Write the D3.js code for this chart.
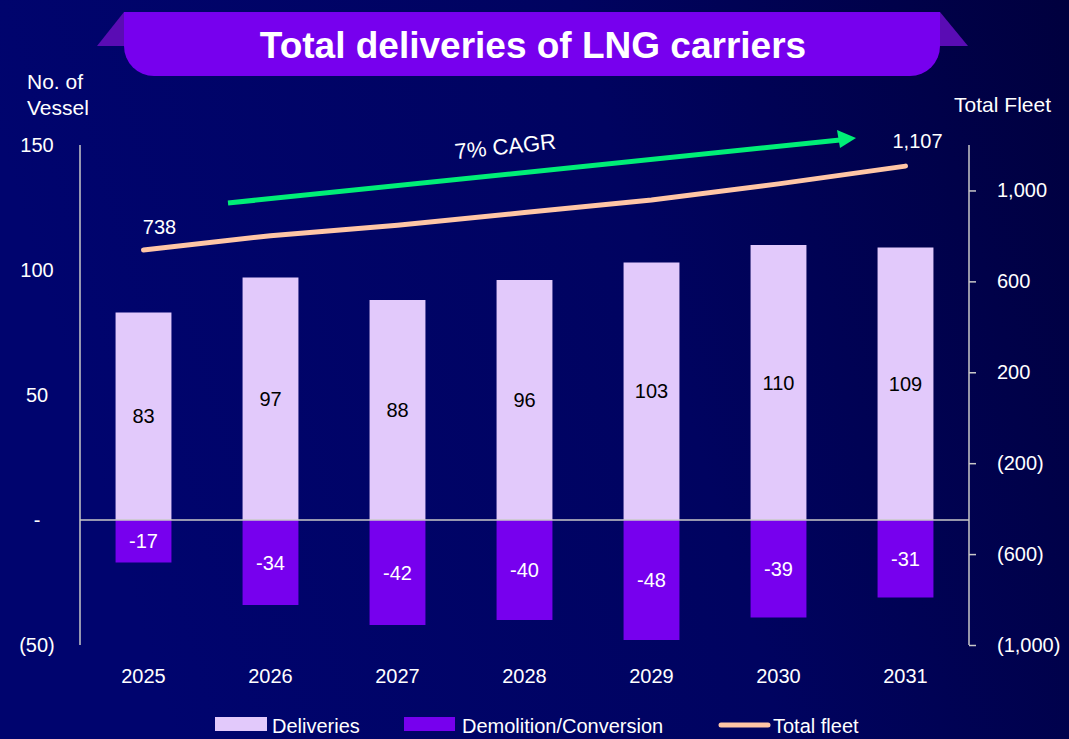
<!DOCTYPE html>
<html>
<head>
<meta charset="utf-8">
<script src="https://cdn.jsdelivr.net/npm/d3@7"></script>
<style>
  body { margin: 0; background: #000055; }
  svg { display: block; font-family: "Liberation Sans", Arial, sans-serif; }
</style>
</head>
<body>
<script>
// chart data
var years = ["2025", "2026", "2027", "2028", "2029", "2030", "2031"];
var deliveries = [83, 97, 88, 96, 103, 110, 109];
var demolition = [-17, -34, -42, -40, -48, -39, -31];
var totalFleet = [738, 801, 847, 903, 958, 1029, 1107];
var leftTicks = [150, 100, 50, 0, -50];
var rightTicks = [1000, 600, 200, -200, -600, -1000];

var W = 1069, H = 739;
var plot = {left: 80, right: 969, top: 145, bottom: 645};

var svg = d3.select("body").append("svg")
    .attr("width", W)
    .attr("height", H);

// background
var defs = svg.append("defs");
var bg = defs.append("linearGradient").attr("id", "bg")
    .attr("x1", "0%").attr("y1", "20%").attr("x2", "100%").attr("y2", "0%");
bg.append("stop").attr("offset", "0%").attr("stop-color", "#00046e");
bg.append("stop").attr("offset", "55%").attr("stop-color", "#000360");
bg.append("stop").attr("offset", "100%").attr("stop-color", "#00003e");
svg.append("rect").attr("width", W).attr("height", H).attr("fill", "url(#bg)");

// title banner
svg.append("path")
  .attr("d", "M97,46 L124,12 L124,46 Z")
  .attr("fill", "#5a0cb4");
svg.append("path")
  .attr("d", "M968,46 L940,12 L940,46 Z")
  .attr("fill", "#5a0cb4");
svg.append("path")
  .attr("d", "M124,12 H940 V46 A30,30 0 0 1 910,76 H154 A30,30 0 0 1 124,46 Z")
  .attr("fill", "#7700ee");
svg.append("text")
  .attr("x", 533).attr("y", 58)
  .attr("text-anchor", "middle")
  .attr("fill", "#fff")
  .style("font-size", "37px")
  .style("font-weight", "bold")
  .text("Total deliveries of LNG carriers");

// scales
var x = d3.scaleBand().domain(years).range([plot.left, plot.right]).paddingInner(0.56).paddingOuter(0.28);
var yL = d3.scaleLinear().domain([-50, 150]).range([plot.bottom, plot.top]);
var yR = d3.scaleLinear().domain([-1000, 1200]).range([plot.bottom, plot.top]);

var axisColor = "#c8c8c8";

// bars
svg.selectAll(".deliv")
  .data(deliveries).enter()
  .append("rect")
    .attr("class", "deliv")
    .attr("x", function(d, i) { return x(years[i]); })
    .attr("y", function(d) { return yL(d); })
    .attr("width", x.bandwidth())
    .attr("height", function(d) { return yL(0) - yL(d); })
    .attr("fill", "#e2c9fb");

svg.selectAll(".demo")
  .data(demolition).enter()
  .append("rect")
    .attr("class", "demo")
    .attr("x", function(d, i) { return x(years[i]); })
    .attr("y", yL(0))
    .attr("width", x.bandwidth())
    .attr("height", function(d) { return yL(d) - yL(0); })
    .attr("fill", "#7700ee");

// bar labels
svg.selectAll(".delivLab")
  .data(deliveries).enter()
  .append("text")
    .attr("x", function(d, i) { return x(years[i]) + x.bandwidth() / 2; })
    .attr("y", function(d) { return (yL(d) + yL(0)) / 2; })
    .attr("dy", "0.35em")
    .attr("text-anchor", "middle")
    .attr("fill", "#000")
    .style("font-size", "20px")
    .text(function(d) { return d; });

svg.selectAll(".demoLab")
  .data(demolition).enter()
  .append("text")
    .attr("x", function(d, i) { return x(years[i]) + x.bandwidth() / 2; })
    .attr("y", function(d) { return (yL(d) + yL(0)) / 2; })
    .attr("dy", "0.35em")
    .attr("text-anchor", "middle")
    .attr("fill", "#fff")
    .style("font-size", "20px")
    .text(function(d) { return d; });

// axes lines
svg.append("line")
  .attr("x1", plot.left).attr("x2", plot.left)
  .attr("y1", plot.top).attr("y2", plot.bottom)
  .attr("stroke", axisColor).attr("stroke-width", 1.5);

svg.append("line")
  .attr("x1", plot.left).attr("x2", plot.right)
  .attr("y1", yL(0)).attr("y2", yL(0))
  .attr("stroke", axisColor).attr("stroke-width", 1.5);

// right axis
var rightAxis = svg.append("g")
    .attr("transform", "translate(" + plot.right + ",0)")
    .call(d3.axisRight(yR).tickValues(rightTicks).tickSize(7).tickPadding(21)
      .tickFormat(function(d) { return d < 0 ? "(" + d3.format(",")(-d) + ")" : d3.format(",")(d); }));
rightAxis.select(".domain").remove();
rightAxis.append("line")
  .attr("x1", 0).attr("x2", 0)
  .attr("y1", plot.top).attr("y2", plot.bottom)
  .attr("stroke", axisColor).attr("stroke-width", 1.5);
rightAxis.selectAll(".tick line").attr("stroke", axisColor).attr("stroke-width", 1.5);
rightAxis.selectAll("text")
  .attr("fill", "#fff")
  .style("font-size", "20px")
  .style("font-family", "Liberation Sans, Arial, sans-serif");

// left tick labels
svg.selectAll(".lt")
  .data(leftTicks).enter()
  .append("text")
    .attr("x", 37)
    .attr("y", function(d) { return yL(d); })
    .attr("dy", "0.35em")
    .attr("text-anchor", "middle")
    .attr("fill", "#fff")
    .style("font-size", "20px")
    .text(function(d) { return d === 0 ? "-" : (d < 0 ? "(" + (-d) + ")" : d); });

// category labels
svg.selectAll(".cat")
  .data(years).enter()
  .append("text")
    .attr("x", function(d) { return x(d) + x.bandwidth() / 2; })
    .attr("y", 676)
    .attr("dy", "0.35em")
    .attr("text-anchor", "middle")
    .attr("fill", "#fff")
    .style("font-size", "20px")
    .text(function(d) { return d; });

// axis titles
var lt = svg.append("text").attr("fill", "#fff").style("font-size", "21px");
lt.append("tspan").attr("x", 27).attr("y", 89).text("No. of");
lt.append("tspan").attr("x", 27).attr("y", 115).text("Vessel");
svg.append("text")
  .attr("x", 1051).attr("y", 112)
  .attr("text-anchor", "end")
  .attr("fill", "#fff")
  .style("font-size", "21px")
  .text("Total Fleet");

// total fleet line
var line = d3.line()
  .x(function(d, i) { return x(years[i]) + x.bandwidth() / 2; })
  .y(function(d) { return yR(d); });

svg.append("path")
  .datum(totalFleet)
  .attr("d", line)
  .attr("fill", "none")
  .attr("stroke", "#ffc6a6")
  .attr("stroke-width", 5)
  .attr("stroke-linecap", "round")
  .attr("stroke-linejoin", "round");

svg.append("text")
  .attr("x", x(years[0]) + x.bandwidth() / 2 + 16)
  .attr("y", yR(totalFleet[0]) - 16)
  .attr("text-anchor", "middle")
  .attr("fill", "#fff")
  .style("font-size", "20px")
  .text(d3.format(",")(totalFleet[0]));

svg.append("text")
  .attr("x", x(years[6]) + x.bandwidth() / 2 + 12)
  .attr("y", yR(totalFleet[6]) - 18)
  .attr("text-anchor", "middle")
  .attr("fill", "#fff")
  .style("font-size", "20px")
  .text(d3.format(",")(totalFleet[6]));

// CAGR arrow
svg.append("line")
  .attr("x1", 228).attr("y1", 203)
  .attr("x2", 840).attr("y2", 140)
  .attr("stroke", "#00ee77")
  .attr("stroke-width", 5);
svg.append("path")
  .attr("d", "M856,138 L837,130 L840,148 Z")
  .attr("fill", "#00ee77");
svg.append("text")
  .attr("transform", "translate(506,154) rotate(-6)")
  .attr("text-anchor", "middle")
  .attr("fill", "#fff")
  .style("font-size", "22px")
  .text("7% CAGR");

// legend
var lg = svg.append("g");
lg.append("rect").attr("x", 215).attr("y", 717).attr("width", 52).attr("height", 14).attr("fill", "#e2c9fb");
lg.append("text").attr("x", 272).attr("y", 733).attr("fill", "#fff").style("font-size", "20px").text("Deliveries");
lg.append("rect").attr("x", 404).attr("y", 717).attr("width", 51).attr("height", 14).attr("fill", "#7700ee");
lg.append("text").attr("x", 462).attr("y", 733).attr("fill", "#fff").style("font-size", "20px").text("Demolition/Conversion");
lg.append("line").attr("x1", 721).attr("x2", 768).attr("y1", 725).attr("y2", 725)
  .attr("stroke", "#ffc6a6").attr("stroke-width", 5).attr("stroke-linecap", "round");
lg.append("text").attr("x", 773).attr("y", 733).attr("fill", "#fff").style("font-size", "20px").text("Total fleet");
</script>
</body>
</html>
